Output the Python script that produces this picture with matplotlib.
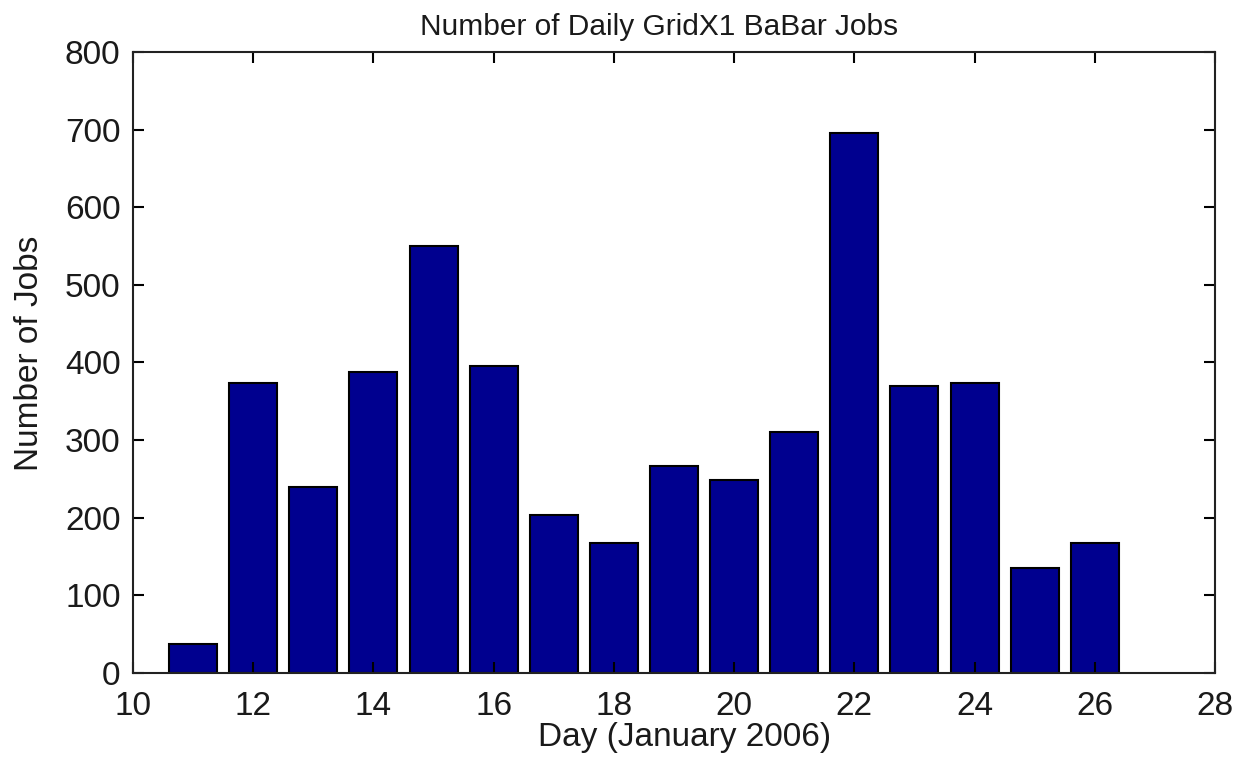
import matplotlib
matplotlib.use("Agg")
import matplotlib.pyplot as plt

days = [11, 12, 13, 14, 15, 16, 17, 18, 19, 20, 21, 22, 23, 24, 25, 26]
jobs = [38, 373, 240, 388, 550, 396, 204, 168, 267, 249, 310, 696, 370, 373, 135, 168]

plt.rcParams['font.family'] = ['Liberation Sans', 'DejaVu Sans']
txt = '#1a1a1a'

fig = plt.figure(figsize=(12.4, 7.63), dpi=100)
ax = fig.add_axes([133 / 1240, 1 - 673 / 763, (1215 - 133) / 1240, (673 - 52) / 763])

ax.bar(days, jobs, width=0.8, color=(0, 0, 0.5625), edgecolor='black', linewidth=1.5)

ax.set_xlim(10, 28)
ax.set_ylim(0, 800)
ax.set_xticks(range(10, 29, 2))
ax.set_yticks(range(0, 801, 100))
ax.tick_params(direction='in', top=True, right=True, length=8, width=1.5,
               labelsize=24, labelcolor=txt)
ax.tick_params(axis='x', pad=13)
ax.tick_params(axis='y', pad=9)
for s in ax.spines.values():
    s.set_linewidth(1.5)
    s.set_color('#222222')

ax.set_title('Number of Daily GridX1 BaBar Jobs', fontsize=21.5, pad=12, x=0.486, color=txt)
ax.set_xlabel('Day (January 2006)', fontsize=24, labelpad=0, x=0.51, color=txt)
ax.set_ylabel('Number of Jobs', fontsize=24, labelpad=14, y=0.515, color=txt)

fig.savefig('out.png', dpi=100)
